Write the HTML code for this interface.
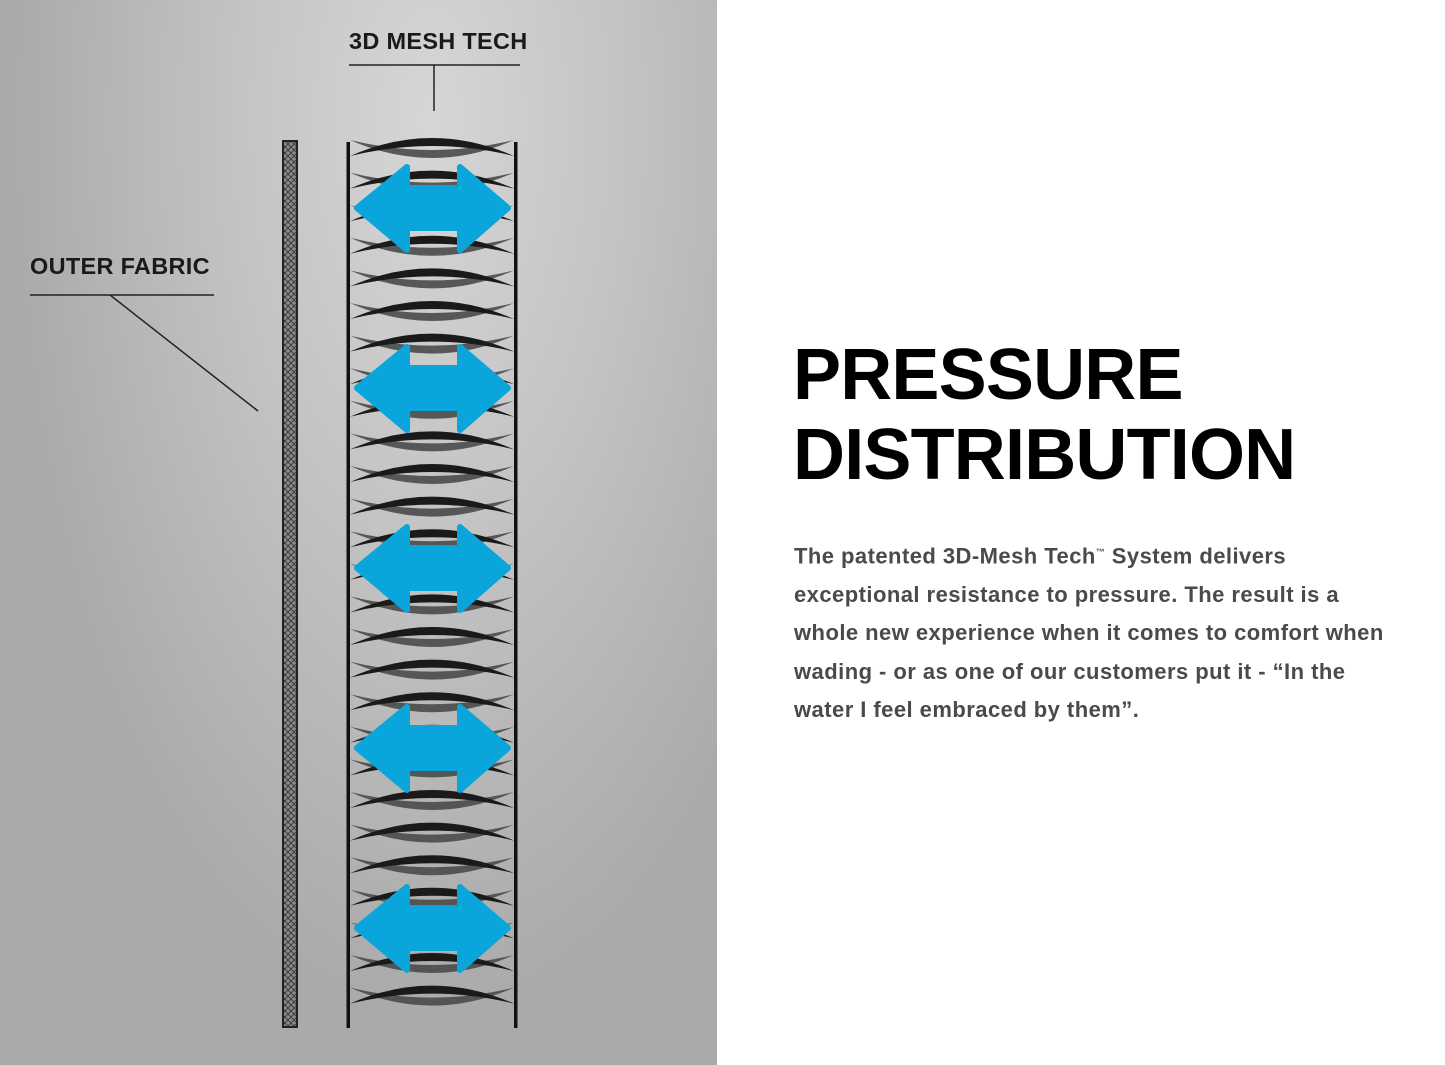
<!DOCTYPE html>
<html><head><style>
body{margin:0;width:1445px;height:1065px;overflow:hidden;background:#fff;font-family:"Liberation Sans",sans-serif;position:relative}
#left{position:absolute;left:0;top:0;width:717px;height:1065px;background:radial-gradient(ellipse 420px 900px at 430px 120px,#d6d6d6 0%,#c4c4c4 45%,#aaaaaa 100%)}
h1{position:absolute;left:793px;top:335px;margin:0;font-size:72px;line-height:80px;font-weight:bold;color:#000;letter-spacing:-0.8px}
p{position:absolute;left:794px;top:533px;margin:0;font-size:22px;line-height:38.5px;font-weight:bold;color:#4a4a4a;white-space:nowrap;letter-spacing:0.45px}
</style></head><body>
<div id="left"></div>
<svg width="717" height="1065" style="position:absolute;left:0;top:0">
<defs>
<pattern id="hx" width="6" height="6" patternUnits="userSpaceOnUse">
<rect width="6" height="6" fill="#888"/>
<path d="M0,0L6,6M6,0L0,6" stroke="#333" stroke-width="0.8"/>
</pattern>
<g id="lens">
<path d="M350,-8 Q432,28 514,-8 Q432,12 350,-8Z" fill="#4a4a4a" opacity="0.9"/>
<path d="M350,8 Q432,-28 514,8 Q432,-12 350,8Z" fill="#1a1a1a"/>
</g>
<path id="arr" d="M357,0 L407,-41 L407,-20 L460,-20 L460,-41 L508,0 L460,42 L460,20 L407,20 L407,42Z" fill="#0aa5db" stroke="#0aa5db" stroke-width="6" stroke-linejoin="round"/>
</defs>
<text x="349" y="49" font-family="Liberation Sans" font-weight="bold" font-size="23.5" letter-spacing="0.3" fill="#1a1a1a">3D MESH TECH</text>
<line x1="349" y1="65" x2="520" y2="65" stroke="#222" stroke-width="1.5"/>
<line x1="434" y1="65" x2="434" y2="111" stroke="#222" stroke-width="1.5"/>
<text x="30" y="274" font-family="Liberation Sans" font-weight="bold" font-size="23.5" letter-spacing="0.3" fill="#1a1a1a">OUTER FABRIC</text>
<line x1="30" y1="295" x2="214" y2="295" stroke="#222" stroke-width="1.5"/>
<line x1="110" y1="295" x2="258" y2="411" stroke="#222" stroke-width="1.5"/>
<rect x="283" y="141" width="14" height="886" fill="url(#hx)" stroke="#222" stroke-width="2"/>
<use href="#lens" y="148"/><use href="#lens" y="180.6"/><use href="#lens" y="213.2"/><use href="#lens" y="245.8"/><use href="#lens" y="278.4"/><use href="#lens" y="311"/><use href="#lens" y="343.6"/><use href="#lens" y="376.2"/><use href="#lens" y="408.8"/><use href="#lens" y="441.4"/><use href="#lens" y="474"/><use href="#lens" y="506.6"/><use href="#lens" y="539.2"/><use href="#lens" y="571.8"/><use href="#lens" y="604.4"/><use href="#lens" y="637"/><use href="#lens" y="669.6"/><use href="#lens" y="702.2"/><use href="#lens" y="734.8"/><use href="#lens" y="767.4"/><use href="#lens" y="800"/><use href="#lens" y="832.6"/><use href="#lens" y="865.2"/><use href="#lens" y="897.8"/><use href="#lens" y="930.4"/><use href="#lens" y="963"/><use href="#lens" y="995.6"/>
<rect x="346.5" y="142" width="3.5" height="886" fill="#111"/>
<rect x="514" y="142" width="3.5" height="886" fill="#111"/>
<use href="#arr" y="208"/><use href="#arr" y="388"/><use href="#arr" y="568"/><use href="#arr" y="748"/><use href="#arr" y="928"/>
</svg>
<h1>PRESSURE<br>DISTRIBUTION</h1>
<p>The patented 3D-Mesh Tech<sup style="font-size:9px">™</sup> System delivers<br>exceptional resistance to pressure. The result is a<br>whole new experience when it comes to comfort when<br>wading - or as one of our customers put it - “In the<br>water I feel embraced by them”.</p>
</body></html>
